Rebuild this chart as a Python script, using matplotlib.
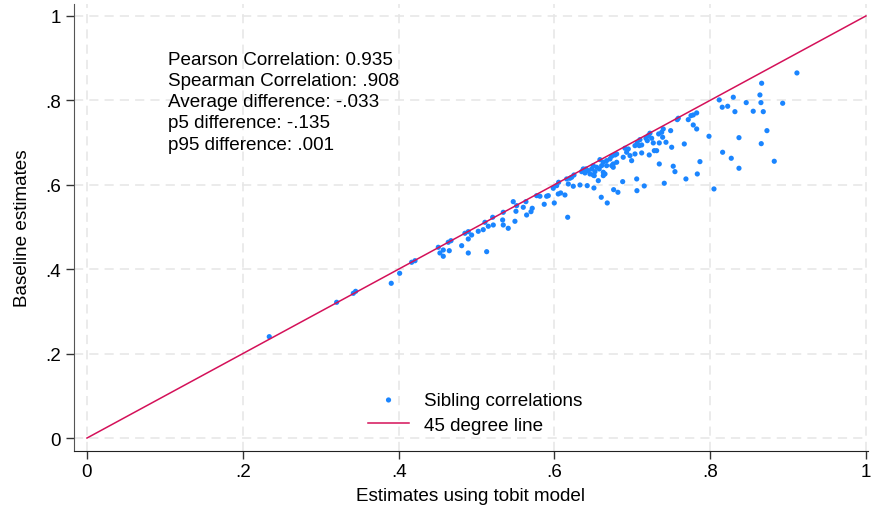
import matplotlib
matplotlib.use("Agg")
import matplotlib.pyplot as plt

# tobit estimate (x) vs baseline estimate (y)
tobit = [
    0.2340, 0.3205, 0.3419, 0.3449, 0.3906, 0.4014, 0.4168, 0.4211,
    0.4510, 0.4531, 0.4574, 0.4574, 0.4638, 0.4651, 0.4673, 0.4810,
    0.4852, 0.4895, 0.4895, 0.4895, 0.4938, 0.5023, 0.5087, 0.5109,
    0.5131, 0.5152, 0.5216, 0.5208, 0.5336, 0.5344, 0.5344, 0.5408,
    0.5494, 0.5472, 0.5516, 0.5507, 0.5601, 0.5635, 0.5644, 0.5700,
    0.5716, 0.5773, 0.5815, 0.5870, 0.5901, 0.5922, 0.5999, 0.6050,
    0.6081, 0.6136, 0.6171, 0.5986, 0.6030, 0.6055, 0.6179, 0.6200,
    0.6252, 0.6243, 0.6329, 0.6422, 0.6508, 0.6350, 0.6457, 0.6512,
    0.6564, 0.6602, 0.6679, 0.6761, 0.6816, 0.6877, 0.7057, 0.7060,
    0.7154, 0.6222, 0.6158, 0.6393, 0.6406, 0.6479, 0.6499, 0.6543,
    0.6576, 0.6521, 0.6628, 0.6607, 0.6671, 0.6736, 0.6756, 0.6628,
    0.6671, 0.6714, 0.6736, 0.6778, 0.6800, 0.6756, 0.6884, 0.6906,
    0.6928, 0.6949, 0.6971, 0.6992, 0.7035, 0.7121, 0.7218, 0.7283,
    0.7313, 0.7035, 0.7090, 0.7121, 0.7064, 0.7099, 0.7176, 0.7193,
    0.7206, 0.7227, 0.7249, 0.7270, 0.7347, 0.7433, 0.7339, 0.7378,
    0.7398, 0.7493, 0.7506, 0.7668, 0.7578, 0.7591, 0.7719, 0.7754,
    0.7783, 0.7827, 0.7783, 0.7827, 0.7985, 0.7869, 0.8117, 0.8155,
    0.8225, 0.8160, 0.7347, 0.7526, 0.7548, 0.7835, 0.7689, 0.7411,
    0.8049, 0.6628, 0.8297, 0.8463, 0.8318, 0.8553, 0.8682, 0.8639,
    0.8652, 0.8661, 0.8931, 0.9114, 0.8729, 0.8370, 0.8656, 0.8271,
    0.8823, 0.8370, 0.7390, 0.6800, 0.6585, 0.6435, 0.6371, 0.6499,
    0.6650,
]
baseline = [
    0.2401, 0.3216, 0.3429, 0.3476, 0.3666, 0.3903, 0.4164, 0.4201,
    0.4519, 0.4384, 0.4455, 0.4306, 0.4638, 0.4438, 0.4675, 0.4557,
    0.4851, 0.4889, 0.4716, 0.4384, 0.4810, 0.4898, 0.4936, 0.5111,
    0.4415, 0.5017, 0.5047, 0.5230, 0.5166, 0.5348, 0.5047, 0.4969,
    0.5135, 0.5600, 0.5505, 0.5372, 0.5467, 0.5600, 0.5284, 0.5363,
    0.5443, 0.5742, 0.5728, 0.5538, 0.5728, 0.5742, 0.5569, 0.5782,
    0.5806, 0.5758, 0.5230, 0.5917, 0.5979, 0.6059, 0.6019, 0.6154,
    0.6232, 0.5965, 0.5995, 0.5979, 0.5924, 0.6311, 0.6256, 0.6216,
    0.6097, 0.5704, 0.5569, 0.5884, 0.5822, 0.6074, 0.6138, 0.5860,
    0.5972, 0.6178, 0.6138, 0.6280, 0.6375, 0.6375, 0.6453, 0.6415,
    0.6375, 0.6311, 0.6296, 0.6453, 0.6453, 0.6453, 0.6415, 0.6533,
    0.6571, 0.6611, 0.6676, 0.6706, 0.6533, 0.6493, 0.6652, 0.6865,
    0.6770, 0.6848, 0.6690, 0.6571, 0.6730, 0.6754, 0.6706, 0.6808,
    0.6808, 0.6927, 0.6927, 0.6943, 0.6991, 0.7069, 0.7102, 0.7045,
    0.7164, 0.7221, 0.7102, 0.6991, 0.6991, 0.7007, 0.7204, 0.7244,
    0.7322, 0.7282, 0.6889, 0.6967, 0.7543, 0.7576, 0.7543, 0.7638,
    0.7654, 0.7702, 0.7417, 0.7322, 0.7149, 0.6548, 0.8010, 0.7837,
    0.7860, 0.6770, 0.6493, 0.6439, 0.6311, 0.6256, 0.6138, 0.6036,
    0.5901, 0.6216, 0.8074, 0.7946, 0.7732, 0.7742, 0.7732, 0.8128,
    0.7946, 0.8405, 0.7931, 0.8649, 0.7282, 0.7116, 0.6974, 0.6628,
    0.6557, 0.6391, 0.7126, 0.6730, 0.6595, 0.6334, 0.6375, 0.6232,
    0.6256,
]

line_x = [0, 1]
ticks = [0, 0.2, 0.4, 0.6, 0.8, 1]
tick_labels = ["0", ".2", ".4", ".6", ".8", "1"]

stats_text = [
    "Pearson Correlation: 0.935",
    "Spearman Correlation: .908",
    "Average difference: -.033",
    "p5 difference: -.135",
    "p95 difference: .001",
]

plt.rcParams["font.family"] = ["Liberation Sans", "DejaVu Sans"]
FS = 13.6

fig = plt.figure(figsize=(8.73, 5.10), dpi=100)
ax = fig.add_axes([0.0842, 0.1143, 0.9095, 0.8757])

ax.scatter(tobit, baseline, s=14, color="#1a85ff", edgecolors="none",
           zorder=3, label="Sibling correlations")
ax.plot(line_x, line_x, color="#d41159", lw=1.1, zorder=4,
        label="45 degree line")

ax.set_xlim(-0.0173, 1.002)
ax.set_ylim(-0.030, 1.028)
ax.set_xticks(ticks)
ax.set_xticklabels(tick_labels)
ax.set_yticks(ticks)
ax.set_yticklabels(tick_labels)
ax.tick_params(labelsize=FS, length=6, width=1, color="#333333", pad=3)

ax.grid(True, color="#e6e6e6", lw=1.1, linestyle=(0, (6, 4)), zorder=0)
ax.set_axisbelow(True)
for side in ("top", "right"):
    ax.spines[side].set_visible(False)
ax.spines["left"].set_color("#555555")
ax.spines["bottom"].set_color("#222222")

ax.set_xlabel("Estimates using tobit model", fontsize=FS, labelpad=5)
ax.set_ylabel("Baseline estimates", fontsize=FS, labelpad=10)

for i, line in enumerate(stats_text):
    ax.text(0.119, 0.877 - i * 0.0477, line, fontsize=FS, va="center",
            ha="left", transform=ax.transAxes)

ax.legend(loc="lower center", bbox_to_anchor=(0.506, 0.0), frameon=False,
          fontsize=FS, markerscale=1.0, handlelength=2.2, handletextpad=0.8,
          labelspacing=0.4, scatterpoints=1)

fig.savefig("out.png", dpi=100)
